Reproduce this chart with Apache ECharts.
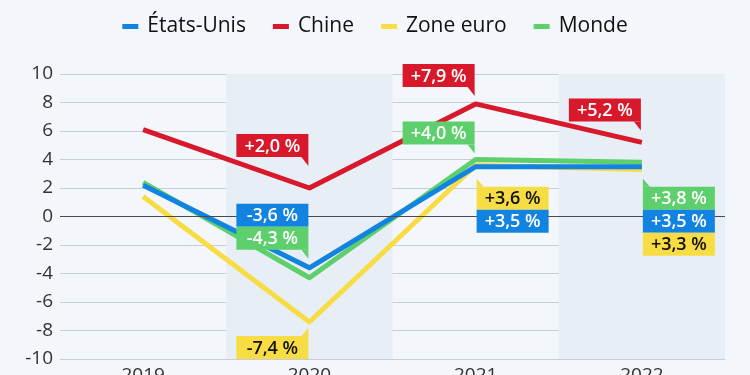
<!DOCTYPE html>
<html>
<head>
<meta charset="utf-8">
<script src="https://cdn.jsdelivr.net/npm/echarts@6/dist/echarts.min.js"></script>
<style>
	html, body { margin: 0; padding: 0; background: #f3f6fa; }
	#chart { width: 750px; height: 375px; }
</style>
</head>
<body>
<div id="chart"></div>
<script>
const categories = ['2019', '2020', '2021', '2022']
const etatsUnis = [2.2, -3.6, 3.5, 3.5]
const chine = [6.1, 2.0, 7.9, 5.2]
const zoneEuro = [1.4, -7.4, 3.6, 3.3]
const monde = [2.4, -4.3, 4.0, 3.8]

const values = { usa: etatsUnis, chine: chine, euro: zoneEuro, monde: monde }
const colors = { usa: '#1383e2', chine: '#d8192b', euro: '#f8dc43', monde: '#5dcf6c' }
const textColors = { usa: '#fff', chine: '#fff', euro: '#111', monde: '#fff' }
const FONT = "'Open Sans', Roboto, sans-serif"

// étiquettes : série, année, série d'ancrage, côté, décalage du haut de la boîte (px), queue
const callouts = [
	{ s: 'chine', i: 1, anchor: 'chine', side: 'left', top: -54, tail: 'down' },
	{ s: 'usa', i: 1, anchor: 'monde', side: 'left', top: -74, tail: null },
	{ s: 'monde', i: 1, anchor: 'monde', side: 'left', top: -51, tail: 'down' },
	{ s: 'euro', i: 1, anchor: 'euro', side: 'left', top: 14, tail: 'up' },
	{ s: 'chine', i: 2, anchor: 'chine', side: 'left', top: -40, tail: 'down' },
	{ s: 'monde', i: 2, anchor: 'monde', side: 'left', top: -38, tail: 'down' },
	{ s: 'euro', i: 2, anchor: 'usa', side: 'right', top: 20, tail: 'upLeft' },
	{ s: 'usa', i: 2, anchor: 'usa', side: 'right', top: 43, tail: null },
	{ s: 'chine', i: 3, anchor: 'chine', side: 'left', top: -44, tail: 'down' },
	{ s: 'monde', i: 3, anchor: 'usa', side: 'right', top: 20, tail: 'upLeft' },
	{ s: 'usa', i: 3, anchor: 'usa', side: 'right', top: 43, tail: null },
	{ s: 'euro', i: 3, anchor: 'usa', side: 'right', top: 66, tail: null }
]

function fmt(v) {
	return (v > 0 ? '+' : '') + v.toFixed(1).replace('.', ',') + ' %'
}

function renderCallout(params, api) {
	const c = callouts[params.dataIndex]
	const pt = api.coord([c.i, values[c.anchor][c.i]])
	const w = 72, h = 23
	const x = c.side === 'left' ? pt[0] - 1 - w : pt[0] + 1
	const y = pt[1] + c.top
	const children = [{
		type: 'rect',
		shape: { x: x, y: y, width: w, height: h },
		style: { fill: colors[c.s] }
	}]
	let pts = null
	if (c.tail === 'down') pts = [[x + w - 7, y + h], [x + w, y + h], [x + w, y + h + 9]]
	if (c.tail === 'up') pts = [[x + w - 7, y], [x + w, y], [x + w, y - 8]]
	if (c.tail === 'upLeft') pts = [[x, y], [x + 7, y], [x, y - 8]]
	if (pts) children.push({ type: 'polygon', shape: { points: pts }, style: { fill: colors[c.s] } })
	children.push({
		type: 'text',
		style: {
			x: x + w / 2, y: y + h / 2 + 1,
			text: fmt(values[c.s][c.i]),
			fill: textColors[c.s],
			font: '600 18px ' + FONT,
			align: 'center', verticalAlign: 'middle'
		}
	})
	return { type: 'group', children: children }
}

function lineSeries(name, key) {
	return {
		name: name,
		type: 'line',
		data: values[key],
		symbol: 'none',
		lineStyle: { width: 5, color: colors[key], join: 'round' },
		itemStyle: { color: colors[key] }
	}
}

const chart = echarts.init(document.getElementById('chart'))
const zeroSeries = lineSeries('Zone euro', 'euro')
zeroSeries.markLine = {
	silent: true,
	symbol: 'none',
	label: { show: false },
	lineStyle: { color: '#4a4a4a', width: 1.2, type: 'solid' },
	data: [{ yAxis: 0 }]
}

chart.setOption({
	backgroundColor: '#f3f6fa',
	animation: false,
	legend: {
		data: ['États-Unis', 'Chine', 'Zone euro', 'Monde'],
		top: 11,
		left: 'center',
		icon: 'rect',
		itemWidth: 16,
		itemHeight: 5,
		itemGap: 27,
		textStyle: { fontSize: 21, color: '#111', fontFamily: FONT, padding: [0, 0, 0, 4] }
	},
	grid: { left: 60, right: 25, top: 74, bottom: 16, containLabel: false, outerBoundsMode: 'none' },
	xAxis: {
		type: 'category',
		data: categories,
		boundaryGap: true,
		axisLine: { show: false, onZero: false },
		axisTick: { show: false },
		axisLabel: { fontSize: 19, color: '#333', margin: 7, fontFamily: FONT },
		splitArea: { show: true, areaStyle: { color: ['rgba(0,0,0,0)', '#e8eef5'] } }
	},
	yAxis: {
		type: 'value',
		min: -10,
		max: 10,
		interval: 2,
		axisLine: { show: false },
		axisTick: { show: false },
		axisLabel: { fontSize: 19, color: '#333', margin: 7, fontFamily: FONT },
		splitLine: { lineStyle: { color: '#c9ced4', width: 1.2 } }
	},
	series: [
		zeroSeries,
		lineSeries('Monde', 'monde'),
		lineSeries('États-Unis', 'usa'),
		lineSeries('Chine', 'chine'),
		{
			type: 'custom',
			clip: false,
			silent: true,
			z: 10,
			renderItem: renderCallout,
			data: callouts.map(c => [c.i, values[c.s][c.i]])
		}
	]
})
</script>
</body>
</html>
